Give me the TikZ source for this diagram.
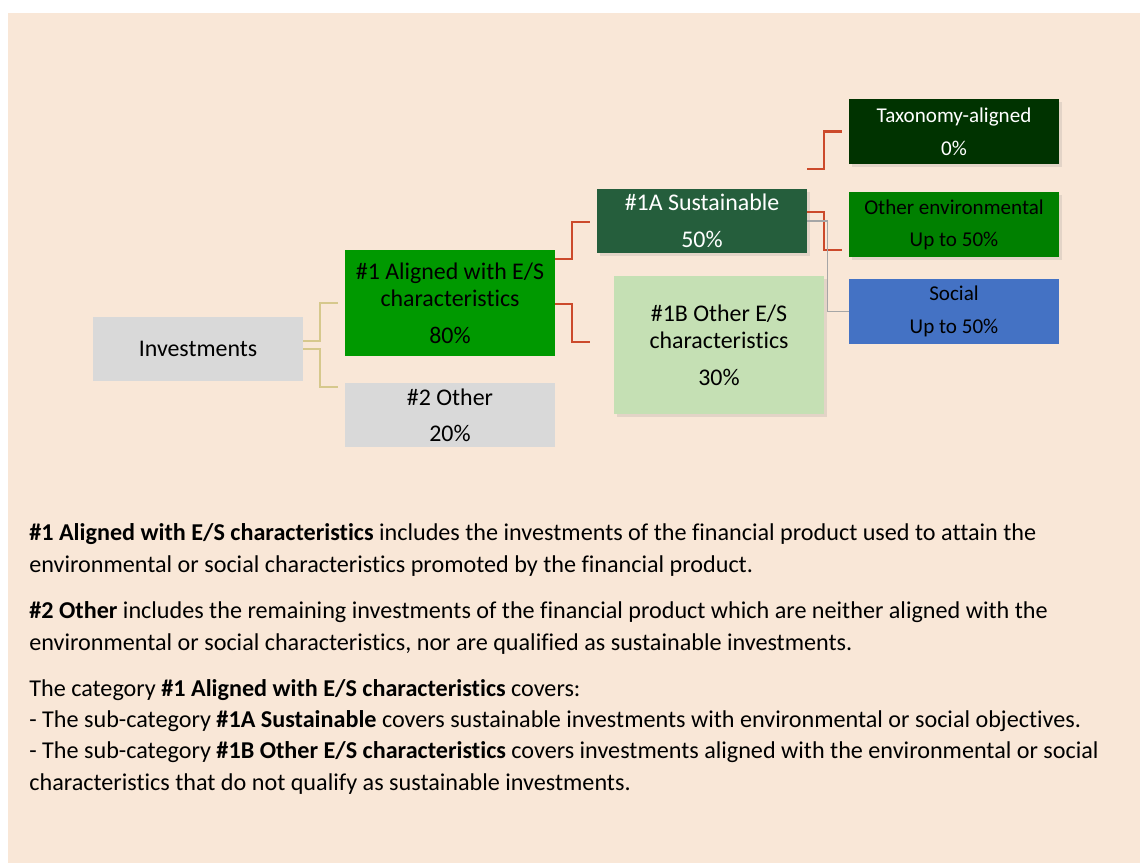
\documentclass[tikz,border=0pt]{standalone}
\usepackage{fontspec}
\setmainfont{Carlito}[Ligatures=CommonOff]
\usepackage{xcolor}
\usepackage{tikz}
\usetikzlibrary{calc,shadows}
\definecolor{bgbeige}{HTML}{F9E7D7}
\definecolor{boxgrey}{HTML}{D9D9D9}
\definecolor{alignedgreen}{HTML}{009900}
\definecolor{sustgreen}{HTML}{255E3C}
\definecolor{othergreen}{HTML}{C5E0B4}
\definecolor{taxgreen}{HTML}{003300}
\definecolor{envgreen}{HTML}{008000}
\definecolor{socblue}{HTML}{4472C4}
\definecolor{linered}{HTML}{CC4A2B}
\definecolor{linetan}{HTML}{D6C88C}
\definecolor{linegrey}{HTML}{A6A6A6}

\begin{document}
\begin{tikzpicture}[x=0.02cm,y=-0.02cm,
    box/.style={rectangle, inner sep=0pt, minimum width=4.2cm, align=center,
        font=\fontsize{13.6}{15.5}\selectfont},
    smallbox/.style={box, minimum height=1.3cm, font=\fontsize{12}{14}\selectfont},
    shade/.style={drop shadow={opacity=0.18, shadow xshift=1.5pt, shadow yshift=-1.5pt}},
    redline/.style={draw=linered, line width=1.2pt},
    tanline/.style={draw=linetan, line width=1.2pt},
    greyline/.style={draw=linegrey, line width=0.9pt},
    bodytext/.style={anchor=base west, inner sep=0pt, font=\fontsize{13.75}{16}\selectfont}]
        % page
        \useasboundingbox (0,0) rectangle (1140,863);
        \fill[bgbeige] (8,13) rectangle (1140,863);

        % boxes
        \node[box, fill=boxgrey, minimum height=1.28cm] (inv) at (198,349) {Investments};
        \node[box, fill=alignedgreen, minimum height=2.12cm] (al) at (450,303)
            {\#1 Aligned with E/S\\characteristics\\[5.5pt]80\%};
        \node[box, fill=boxgrey, minimum height=1.28cm] (oth) at (450,415)
            {\#2 Other\\[5pt]20\%};
        \node[box, shade, fill=sustgreen, text=white, minimum height=1.28cm] (sa) at (702,221)
            {\#1A Sustainable\\[5.5pt]50\%};
        \node[box, shade, fill=othergreen, minimum height=2.76cm] (sb) at (719,345)
            {\#1B Other E/S\\characteristics\\[5.5pt]30\%};
        \node[smallbox, shade, fill=taxgreen, text=white] (tax) at (954,131.5)
            {Taxonomy-aligned\\[4.7pt]0\%};
        \node[smallbox, shade, fill=envgreen] (env) at (954,224.5)
            {Other environmental\\[4.2pt]Up to 50\%};
        \node[smallbox, fill=socblue] (soc) at (954,311.5)
            {Social\\[4.7pt]Up to 50\%};

        % connectors
        \draw[tanline] ($(inv.east)+(0,-8)$) -- ++(17,0) |- ($(al.west)+(-7,0)$);
        \draw[tanline] (inv.east) -- ++(17,0) |- ($(oth.north west)+(-7,4)$);
        \draw[redline] ($(al.east)+(0,-44)$) -- ++(17,0) |- ($(sa.west)+(-7,1)$);
        \draw[redline] ($(al.east)+(0,1)$) -- ++(17,0) |- ($(sb.west)+(-24,-3)$);
        \coordinate (taxstart) at ($(sa.north east)+(0,-20)$);
        \draw[redline] (taxstart) -- ++(17,0) |- ($(tax.west)+(-7,0)$);
        \draw[redline] ($(sa.east)+(0,-9)$) -- ++(17,0) |- ($(env.west)+(-7,25.5)$);
        \draw[greyline] (sa.east) -- ++(20,0) |- (soc.west);

        % Text
        \node[bodytext] (t1) at (29,540) {\textbf{\#1 Aligned with E/S characteristics} includes the investments of the financial product used to attain the};
        \node[bodytext] (t2) at (29,572) {environmental or social characteristics promoted by the financial product.};
        \node[bodytext] (t3) at (29,618) {\textbf{\#2 Other} includes the remaining investments of the financial product which are neither aligned with the};
        \node[bodytext] (t4) at (29,650) {environmental or social characteristics, nor are qualified as sustainable investments.};
        \node[bodytext] (t5) at (29,696) {The category \textbf{\#1 Aligned with E/S characteristics} covers:};
        \node[bodytext] (t6) at (29,727) {- The sub-category \textbf{\#1A Sustainable} covers sustainable investments with environmental or social objectives.};
        \node[bodytext] (t7) at (29,758) {- The sub-category \textbf{\#1B Other E/S characteristics} covers investments aligned with the environmental or social};
        \node[bodytext] (t8) at (29,790) {characteristics that do not qualify as sustainable investments.};
\end{tikzpicture}
\end{document}
